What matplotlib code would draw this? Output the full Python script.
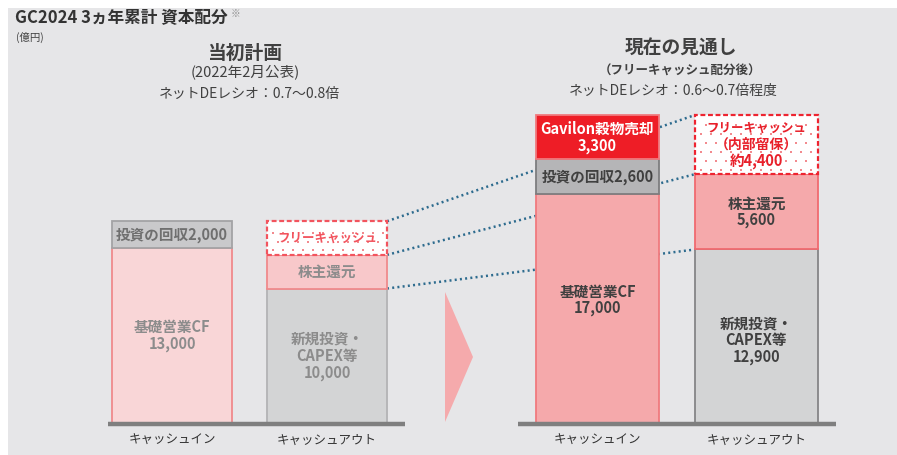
import numpy as np
import matplotlib
matplotlib.use("Agg")
import matplotlib.pyplot as plt
from matplotlib.patches import Rectangle, Polygon

plt.rcParams['font.family'] = ['Noto Sans CJK JP', 'DejaVu Sans']

# ---------------- data (億円) ----------------
categories = ["キャッシュイン", "キャッシュアウト"]

# 当初計画 (2022年2月公表)
plan_in_labels = ["基礎営業CF\n13,000", "投資の回収2,000"]
plan_in_values = [13000, 2000]
plan_out_labels = ["新規投資・\nCAPEX等\n10,000", "株主還元", "フリーキャッシュ"]
plan_out_values = [10000, 2500, 2500]

# 現在の見通し (フリーキャッシュ配分後)
now_in_labels = ["基礎営業CF\n17,000", "投資の回収2,600", "Gavilon穀物売却\n3,300"]
now_in_values = [17000, 2600, 3300]
now_out_labels = ["新規投資・\nCAPEX等\n12,900", "株主還元\n5,600", "フリーキャッシュ\n（内部留保）\n約4,400"]
now_out_values = [12900, 5600, 4400]

# ---------------- layout ----------------
W, H = 897, 455
fig = plt.figure(figsize=(W / 100, H / 100), dpi=100)
fig.patch.set_facecolor("white")
fig.add_artist(Rectangle((8 / W, 0), 1, 1 - 8 / H, transform=fig.transFigure,
                         facecolor="#e6e6e8", edgecolor="none", zorder=0))

ax = fig.add_axes([0, 0, 1, 1])
ax.set_facecolor("none")
ax.axis("off")
K = 13.45 / 1000.0          # pixels per 億円
BASE = 423                  # baseline pixel row
ax.set_xlim(0, W)
ax.set_ylim(-(H - BASE) / K, BASE / K)


def yv(py):
    """pixel row -> value units"""
    return (BASE - py) / K


LINE = 16.8 / K   # line pitch in value units

# styles per segment
plan_in_style = [
    dict(fc="#f9d6d7", ec="#f08a8c", tc="#8c8c8c"),
    dict(fc="#c9c9cb", ec="#a3a3a5", tc="#6f6f6f"),
]
plan_out_style = [
    dict(fc="#d3d4d5", ec="#b3b3b5", tc="#8c8c8c"),
    dict(fc="#f8c8ca", ec="#f08a8c", tc="#8c8c8c"),
    dict(fc="white", ec="#f2545e", tc="#f2545e", dashed=True, lfs=[9]),
]
now_in_style = [
    dict(fc="#f5a9ab", ec="#f07a7e", tc="#404040", dy=650),
    dict(fc="#b5b5b7", ec="#7d7d7f", tc="#404040"),
    dict(fc="#ee1d26", ec="#f07a7e", tc="white"),
]
now_out_style = [
    dict(fc="#d3d4d5", ec="#858587", tc="#404040", dy=-300),
    dict(fc="#f5a9ab", ec="#f06a70", tc="#404040"),
    dict(fc="white", ec="#ee2430", tc="#e8202a", dashed=True,
         lfs=[9, 10, 10.5]),
]


def draw_stack(xc, width, values, labels, styles, fs=10.5):
    bottom = 0
    bounds = [0]
    for v, lab, st in zip(values, labels, styles):
        dashed = st.get("dashed", False)
        ax.bar(xc, v, width=width, bottom=bottom, color=st["fc"],
               edgecolor=st["ec"], linewidth=1.6 if dashed else 1.3,
               linestyle=(0, (2.2, 1.2)) if dashed else "solid", zorder=3)
        if dashed:
            # dotted fill pattern
            x0, x1 = xc - width / 2, xc + width / 2
            rows = np.arange(bottom + 330, bottom + v - 200, 660)
            xs, ys = [], []
            for i, r in enumerate(rows):
                cols = np.arange(x0 + 6 + (5 if i % 2 else 0), x1 - 3, 10)
                xs.extend(cols)
                ys.extend([r] * len(cols))
            ax.scatter(xs, ys, s=1.0, color="#f28a8e", marker="s",
                       linewidths=0, zorder=3.5)
        lines = lab.split("\n")
        lfs = st.get("lfs", [fs] * len(lines))
        yc = bottom + v / 2 + st.get("dy", 0)
        n = len(lines)
        for i, (ln, f) in enumerate(zip(lines, lfs)):
            ax.text(xc, yc + ((n - 1) / 2 - i) * LINE, ln, ha="center",
                    va="center", fontsize=f, fontweight="bold",
                    color=st["tc"], zorder=5)
        bottom += v
        bounds.append(bottom)
    return bounds


# x positions (pixels)
plan_x = [172, 327]
now_x = [597.5, 756.5]
plan_w, now_w = 120, 123

draw_stack(plan_x[0], plan_w, plan_in_values, plan_in_labels, plan_in_style)
plan_out_b = draw_stack(plan_x[1], plan_w, plan_out_values, plan_out_labels, plan_out_style)
draw_stack(now_x[0], now_w, now_in_values, now_in_labels, now_in_style)
now_out_b = draw_stack(now_x[1], now_w, now_out_values, now_out_labels, now_out_style)

# dotted connector lines (behind bars)
for a, b in zip(plan_out_b[1:], now_out_b[1:]):
    ax.plot([plan_x[1] + plan_w / 2, now_x[1] - now_w / 2], [a, b],
            color="#2d6b8e", linewidth=1.8, linestyle=(0, (0.8, 1.3)),
            zorder=2, solid_capstyle="butt")

# baselines
ax.plot([108, 405], [yv(BASE + 1), yv(BASE + 1)], color="#7f7f7f", lw=3.2,
        solid_capstyle="butt", zorder=4)
ax.plot([518, 836], [yv(BASE + 1), yv(BASE + 1)], color="#7f7f7f", lw=3.2,
        solid_capstyle="butt", zorder=4)

# arrow triangle
ax.add_patch(Polygon([[445, yv(292)], [445, yv(422)], [473, yv(357)]],
                     closed=True, facecolor="#f5aaac", edgecolor="none", zorder=2))

# category labels
for xs_ in (plan_x, now_x):
    for xc, lab in zip(xs_, categories):
        ax.text(xc, yv(440), lab, ha="center", va="center", fontsize=9,
                color="#333333")


# titles
def ftext(px, py, s, **kw):
    fig.text(px / W, 1 - py / H, s, **kw)


ftext(15, 18, "GC2024 3ヵ年累計 資本配分", ha="left", va="center", fontsize=12,
      fontweight="bold", color="#333333")
ftext(231, 14, "※", ha="left", va="center", fontsize=7, color="#909090")
ftext(16, 37, "(億円)", ha="left", va="center", fontsize=7.5, color="#404040")

ftext(245, 53, "当初計画", ha="center", va="center", fontsize=13.5,
      fontweight="bold", color="#404040")
ftext(245, 72, "(2022年2月公表)", ha="center", va="center", fontsize=10.5,
      color="#404040")
ftext(249, 94, "ネットDEレシオ：0.7～0.8倍", ha="center", va="center",
      fontsize=10, color="#404040")

ftext(681, 48, "現在の見通し", ha="center", va="center", fontsize=13.5,
      fontweight="bold", color="#404040")
ftext(680, 71, "（フリーキャッシュ配分後）", ha="center", va="center", fontsize=9,
      fontweight="bold", color="#404040")
ftext(673, 91, "ネットDEレシオ：0.6～0.7倍程度", ha="center", va="center",
      fontsize=10, color="#404040")

fig.savefig("out.png", dpi=100, facecolor=fig.get_facecolor())
